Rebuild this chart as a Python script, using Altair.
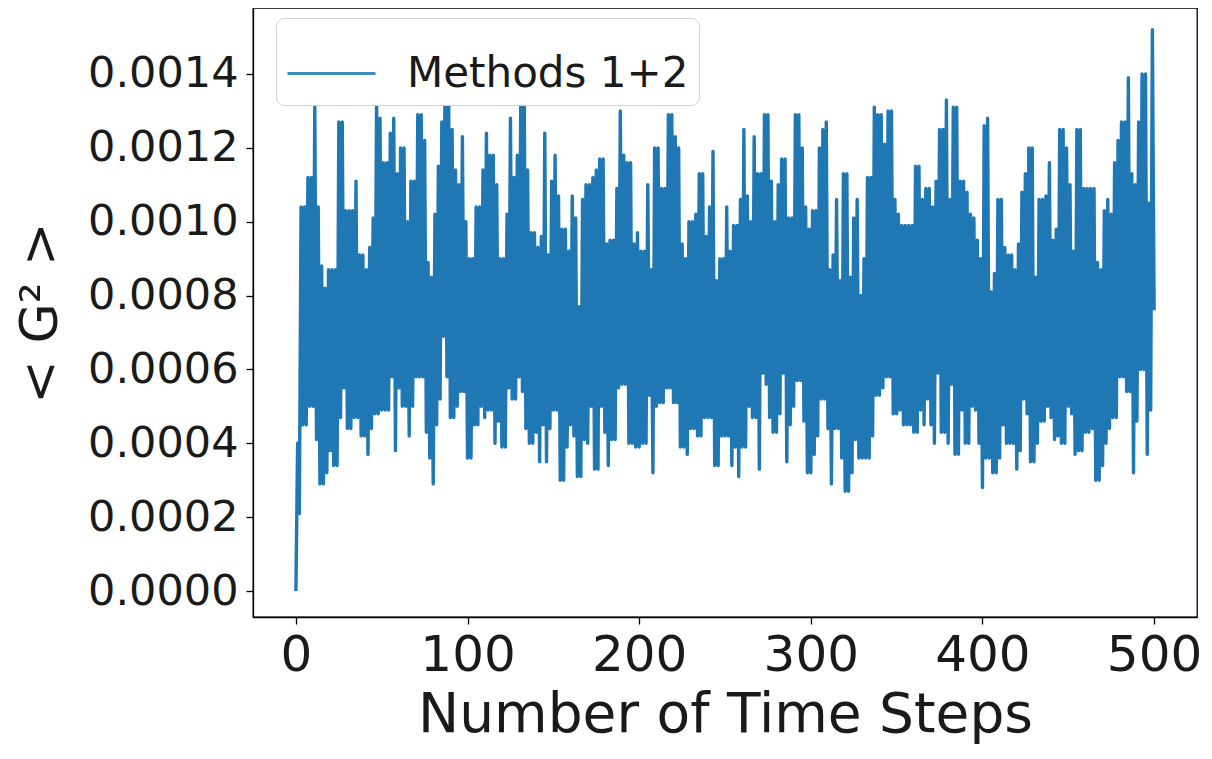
import altair as alt
import pandas as pd

# <G^2> per time step.
# Values at odd time steps (1, 3, ..., 499): local highs
highs = [
    0.0004, 0.00104, 0.00104, 0.00112, 0.00112, 0.00131, 0.00104, 0.00088, 0.00082, 0.00087,
    0.00087, 0.00087, 0.00127, 0.00127, 0.00103, 0.00103, 0.00103, 0.00111, 0.00091, 0.00091,
    0.00087, 0.00093, 0.00101, 0.00133, 0.00128, 0.00116, 0.00116, 0.00124, 0.00128, 0.00113,
    0.0012, 0.0012, 0.001, 0.00111, 0.00111, 0.00129,
    0.00129, 0.00122, 0.00089, 0.00085, 0.00102, 0.00115, 0.00127, 0.00146, 0.00132, 0.00125,
    0.00114, 0.0011, 0.00123, 0.001, 0.0009, 0.0009, 0.00104, 0.00104, 0.00114, 0.00124,
    0.00118, 0.00118, 0.0011, 0.0009, 0.0009, 0.00102, 0.00128, 0.00112, 0.00118, 0.00132,
    0.00138, 0.00114, 0.00097, 0.00097, 0.00093, 0.00096,
    0.00124, 0.00091, 0.00111, 0.00118, 0.00107, 0.00098, 0.00098, 0.00092, 0.00107, 0.00101,
    0.00077, 0.00106, 0.0011, 0.0011, 0.00112, 0.00114, 0.00117, 0.00117, 0.00094, 0.00095,
    0.00095, 0.00109, 0.0013, 0.00118, 0.00116, 0.00116, 0.00094, 0.00097, 0.00092, 0.00092,
    0.0011, 0.00087, 0.0012, 0.0012, 0.00109, 0.00109,
    0.00129, 0.00129, 0.00123, 0.0012, 0.00094, 0.0009, 0.001, 0.001, 0.00102, 0.00113,
    0.00113, 0.00096, 0.00104, 0.00119, 0.00084, 0.0009, 0.0009, 0.00104, 0.00092, 0.00099,
    0.00099, 0.00106, 0.00125, 0.00107, 0.001, 0.00123, 0.00113, 0.00113, 0.00129, 0.00129,
    0.00111, 0.001, 0.0011, 0.00117, 0.00117,
    0.00101, 0.00101, 0.00129, 0.00129, 0.0012, 0.00104, 0.00098, 0.00103, 0.00103, 0.0012,
    0.00125, 0.00127, 0.00087, 0.00091, 0.00106, 0.00084, 0.00113, 0.00113, 0.00085, 0.00101,
    0.00106, 0.0008, 0.0009, 0.00112, 0.00112, 0.00131, 0.00129, 0.00129, 0.00121, 0.0013,
    0.0013, 0.00106, 0.00102, 0.00099, 0.00099, 0.00099,
    0.00099, 0.00115, 0.00115, 0.00106, 0.00109, 0.00109, 0.00104, 0.00111, 0.00125, 0.00125,
    0.00133, 0.00106, 0.00131, 0.00131, 0.00111, 0.00111, 0.00108, 0.00102, 0.00101, 0.00095,
    0.0009, 0.00126, 0.00128, 0.00081, 0.00086, 0.00106, 0.00106, 0.00093, 0.00091, 0.00091,
    0.00087, 0.00094, 0.00108, 0.00113, 0.0012, 0.0012,
    0.00085, 0.00106, 0.00106, 0.00107, 0.00116, 0.00095, 0.00098, 0.00125, 0.00125, 0.0012,
    0.0011, 0.00092, 0.00125, 0.00125, 0.00109, 0.00109, 0.00109, 0.00109, 0.00089, 0.00087,
    0.00103, 0.00106, 0.00102, 0.00116, 0.00122, 0.00127, 0.00127, 0.00139, 0.00113, 0.0011,
    0.00127, 0.0014, 0.0014, 0.00105, 0.00152,
]

# Values at even time steps (0, 2, ..., 500): local lows
lows = [
    0.0, 0.00021, 0.00045, 0.00045, 0.0005, 0.0005, 0.00041, 0.00029, 0.00029, 0.00032,
    0.00038, 0.00034, 0.00034, 0.00047, 0.00055, 0.00044, 0.00044, 0.00047, 0.00047, 0.00042,
    0.00042, 0.00037, 0.00044, 0.00048, 0.00048, 0.00049, 0.00049, 0.00049, 0.00058, 0.00038,
    0.00055, 0.0005, 0.0005, 0.00042, 0.0005, 0.00058, 0.00058,
    0.00058, 0.00043, 0.00036, 0.00029, 0.00045, 0.00052, 0.00069, 0.00058, 0.00047, 0.00047,
    0.0005, 0.00054, 0.00054, 0.00036, 0.00036, 0.00045, 0.00045, 0.0005, 0.00047, 0.00049,
    0.00049, 0.0004, 0.00046, 0.00039, 0.00039, 0.00055, 0.00052, 0.00052, 0.00058, 0.00054,
    0.00044, 0.0004, 0.0004, 0.00043, 0.00035,
    0.00045, 0.00035, 0.00044, 0.00049, 0.00049, 0.0003, 0.0003, 0.00039, 0.00045, 0.00042,
    0.00031, 0.00031, 0.00041, 0.0004, 0.0005, 0.00033, 0.00033, 0.0005, 0.00043, 0.00034,
    0.00041, 0.00041, 0.00055, 0.00056, 0.00056, 0.0004, 0.0004, 0.00039, 0.00039, 0.0004,
    0.0004, 0.00053, 0.00032, 0.0005, 0.00051, 0.00051,
    0.00055, 0.00055, 0.00051, 0.00051, 0.00039, 0.00039, 0.00037, 0.00044, 0.00044, 0.00042,
    0.00042, 0.00047, 0.00047, 0.00047, 0.00034, 0.00034, 0.00042, 0.00042, 0.00042, 0.00034,
    0.00039, 0.00031, 0.00039, 0.00039, 0.0005, 0.00047, 0.00047, 0.00033, 0.00059, 0.00056,
    0.00047, 0.00043, 0.00043, 0.00048, 0.00059, 0.00035,
    0.00045, 0.0005, 0.00057, 0.00057, 0.00046, 0.00032, 0.00032, 0.00037, 0.00042, 0.00052,
    0.00052, 0.00044, 0.00029, 0.00044, 0.00044, 0.00036, 0.00027, 0.00027, 0.00032, 0.00041,
    0.00036, 0.00036, 0.00036, 0.00036, 0.00042, 0.00053, 0.00053, 0.00055, 0.00058, 0.00058,
    0.00048, 0.00048, 0.00049, 0.00045, 0.00045, 0.00045,
    0.00043, 0.00043, 0.00049, 0.00045, 0.00052, 0.00045, 0.0004, 0.00059, 0.00043, 0.00043,
    0.0004, 0.00056, 0.00037, 0.00037, 0.00049, 0.0004, 0.0004, 0.0005, 0.00049, 0.0004,
    0.00028, 0.00036, 0.00036, 0.00032, 0.00032, 0.00036, 0.00045, 0.0004, 0.0004, 0.0004,
    0.00033, 0.00038, 0.00052, 0.00048, 0.00035, 0.00035,
    0.0004, 0.00046, 0.00046, 0.0005, 0.00047, 0.00041, 0.00042, 0.0004, 0.0004, 0.0005,
    0.00048, 0.00037, 0.00038, 0.00038, 0.00043, 0.00043, 0.00044, 0.0003, 0.0003, 0.00034,
    0.0004, 0.00044, 0.00047, 0.00047, 0.00058, 0.00058, 0.00054, 0.00054, 0.00032, 0.00046,
    0.0006, 0.0006, 0.00037, 0.00049, 0.00076,
]

series_name = "Methods 1+2"
x_ticks = [0, 100, 200, 300, 400, 500]
y_ticks = [0.0, 0.0002, 0.0004, 0.0006, 0.0008, 0.0010, 0.0012, 0.0014]

steps = list(range(len(lows) + len(highs)))
values = [lows[i // 2] if i % 2 == 0 else highs[i // 2] for i in steps]
df = pd.DataFrame({"step": steps, "g2": values, "series": series_name})

FONT = "DejaVu Sans"

chart = (
    alt.Chart(df)
    .mark_line(strokeWidth=3.4, strokeJoin="round", clip=True)
    .encode(
        x=alt.X(
            "step:Q",
            scale=alt.Scale(domain=[-25, 525], nice=False, zero=False),
            axis=alt.Axis(
                values=x_ticks, format="d", title="Number of Time Steps",
                labelFontSize=50, titleFontSize=55, labelPadding=6, titlePadding=8,
            ),
        ),
        y=alt.Y(
            "g2:Q",
            scale=alt.Scale(domain=[-0.0000704, 0.0015787], nice=False, zero=False),
            axis=alt.Axis(
                values=y_ticks, format=".4f", title="< G² >",
                labelFontSize=43, titleFontSize=52, labelPadding=8, titlePadding=20,
            ),
        ),
        color=alt.Color(
            "series:N",
            scale=alt.Scale(range=["#1f77b4"]),
            legend=alt.Legend(
                title=None, orient="none", legendX=23, legendY=10,
                symbolType="stroke", symbolStrokeWidth=3, symbolSize=7744,
                symbolStrokeColor="#1f77b4", symbolOpacity=0.85,
                labelFontSize=42, labelFont=FONT, labelColor="#1a1a1a", labelLimit=500,
                labelOffset=30, padding=10, cornerRadius=8,
                fillColor="white", strokeColor="#d0d0d0",
            ),
        ),
    )
    .properties(
        width=944, height=609,
        autosize=alt.AutoSizeParams(type="none"),
        padding={"left": 245, "top": 0, "right": 7, "bottom": 130},
    )
    .configure_view(stroke="black", strokeWidth=1.3)
    .configure_axis(
        labelFont=FONT, titleFont=FONT, labelColor="#1a1a1a", titleColor="#1a1a1a",
        titleFontWeight="normal", grid=False, domainColor="black", domainWidth=1.3,
        tickColor="black", tickSize=7, tickWidth=1.3,
    )
)

chart.save("out.html", embed_options={"renderer": "svg", "actions": False})
